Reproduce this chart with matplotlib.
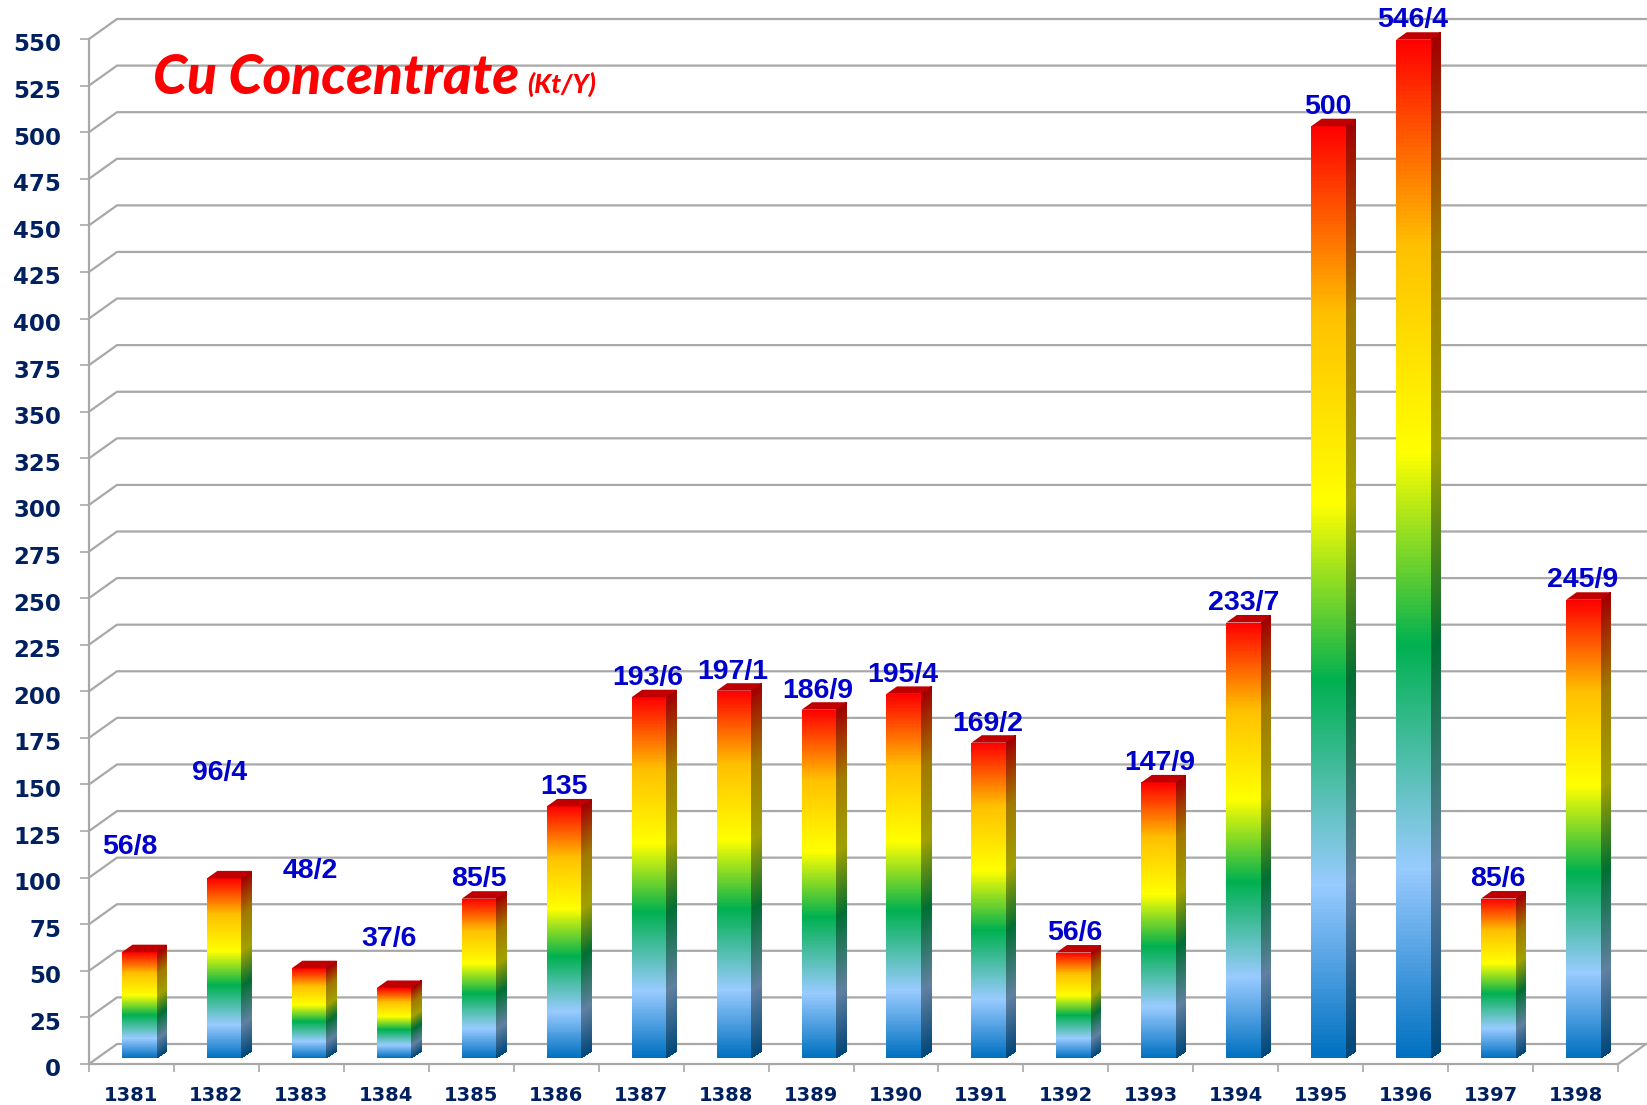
"""Cu concentrate production per year, pseudo-3D gradient column chart."""

import numpy as np
import matplotlib
matplotlib.use("Agg")
import matplotlib.pyplot as plt
from matplotlib.colors import LinearSegmentedColormap, to_rgb
from matplotlib.patches import Polygon
from matplotlib.transforms import ScaledTranslation

# ── Data ──────────────────────────────────────────────────────────
years = [1381, 1382, 1383, 1384, 1385, 1386, 1387, 1388, 1389,
         1390, 1391, 1392, 1393, 1394, 1395, 1396, 1397, 1398]
values = [56.8, 96.4, 48.2, 37.6, 85.5, 135, 193.6, 197.1, 186.9,
          195.4, 169.2, 56.6, 147.9, 233.7, 500, 546.4, 85.6, 245.9]
labels = ["56/8", "96/4", "48/2", "37/6", "85/5", "135", "193/6", "197/1", "186/9",
          "195/4", "169/2", "56/6", "147/9", "233/7", "500", "546/4", "85/6", "245/9"]
y_ticks = list(range(0, 551, 25))

# hand-placed label centres, as in the original slide (x in categories, y in kt)
label_x = [0.48, 1.54, 2.60, 3.53, 4.59, 5.59, 6.58, 7.58, 8.58,
           9.58, 10.58, 11.60, 12.60, 13.59, 14.59, 15.58, 16.59, 17.58]
label_y = [116.2, 156.1, 103.7, 67.3, 99.2, 148.5, 207, 210.4, 199.9,
           208.8, 182.5, 70.3, 161.5, 247.3, 513.6, 560, 99.2, 259.8]

# ── Layout (pixels of the 1647x1105 picture) ──────────────────────
W, H = 1647, 1105
X0, X1, Y0, Y550 = 89, 1618, 1064, 39
PX_X = (X1 - X0) / len(years)      # pixels per category
PX_Y = (Y0 - Y550) / 550           # pixels per kt
WALL_DX, WALL_DY = 28 / PX_X, 20 / PX_Y
BAR_LEFT, BAR_W = 33 / PX_X, 34.5 / PX_X
BAR_DX, BAR_DY = 10.5 / PX_X, 7.5 / PX_Y
BAR_BASE = 3.2
GRID = "#a8a8a8"
NAVY = "#002060"

stops = [(0.0, "#0070c0"), (0.185, "#99cbff"), (0.405, "#00b050"),
         (0.595, "#ffff00"), (0.80, "#ffc000"), (1.0, "#ff0000")]
front_cmap = LinearSegmentedColormap.from_list("front", stops)
side_cmap = LinearSegmentedColormap.from_list(
    "side", [(p, tuple(0.63 * c for c in to_rgb(col))) for p, col in stops])

fig = plt.figure(figsize=(W / 100, H / 100), dpi=100)
ax = fig.add_axes([X0 / W, 1 - Y0 / H, (X1 - X0) / W, (Y0 - Y550) / H])
ax.set_xlim(0, len(years))
ax.set_ylim(0, 550)

# ── Walls: diagonal + back gridline for each tick ─────────────────
for v in y_ticks:
    ax.plot([0, WALL_DX, len(years) + WALL_DX], [v, v + WALL_DY, v + WALL_DY],
            color=GRID, lw=1.6, clip_on=False, zorder=1)
ax.plot([len(years), len(years) + WALL_DX], [0, WALL_DY], color=GRID, lw=1.6, clip_on=False, zorder=1)

# ── Bars ──────────────────────────────────────────────────────────
ramp = np.linspace(0, 1, 256).reshape(-1, 1)
for i, v in enumerate(values):
    left = i + BAR_LEFT
    right = left + BAR_W
    top = v + BAR_BASE
    ys = np.linspace(BAR_BASE, top, 257)

    # front face
    xf = np.tile([left, right], (257, 1))
    yf = np.column_stack([ys, ys])
    ax.pcolormesh(xf, yf, ramp, cmap=front_cmap, vmin=0, vmax=1, shading="flat",
                  clip_on=False, zorder=3, rasterized=True)

    # side face, sheared
    xs = np.tile([right, right + BAR_DX], (257, 1))
    ysd = np.column_stack([ys, ys + BAR_DY])
    ax.pcolormesh(xs, ysd, ramp, cmap=side_cmap, vmin=0, vmax=1, shading="flat",
                  clip_on=False, zorder=3, rasterized=True)

    # top face
    ax.add_patch(Polygon([(left, top), (right, top), (right + BAR_DX, top + BAR_DY),
                          (left + BAR_DX, top + BAR_DY)],
                         closed=True, fc="#c00000", ec="none", clip_on=False, zorder=4))

# ── Value labels ──────────────────────────────────────────────────
for x, y, txt in zip(label_x, label_y, labels):
    ax.text(x, y, txt, ha="center", va="center", fontsize=20.5, fontweight="bold",
            family="Liberation Sans", color="#0000cc", zorder=6, clip_on=False)

# ── Axes ──────────────────────────────────────────────────────────
for side in ["top", "right"]:
    ax.spines[side].set_visible(False)
for side in ["left", "bottom"]:
    ax.spines[side].set_color(GRID)
    ax.spines[side].set_linewidth(1.6)

ax.set_yticks(y_ticks)
ax.set_yticklabels([str(t) for t in y_ticks], family="DejaVu Sans", fontweight="bold",
                   fontsize=16.5, color=NAVY)
ax.tick_params(axis="y", length=6.5, width=1.2, color=GRID, pad=13.5)
# the slide's labels sit a little below their ticks
nudge = ScaledTranslation(0, -2.5 / 72, fig.dpi_scale_trans)
for lab in ax.get_yticklabels():
    lab.set_transform(lab.get_transform() + nudge)

ax.set_xticks(np.arange(len(years)) + 0.5)
ax.set_xticklabels([str(y) for y in years], family="DejaVu Sans", fontweight="bold",
                   fontsize=14, color=NAVY)
ax.set_xticks(np.arange(len(years) + 1), minor=True)
ax.tick_params(axis="x", which="major", length=0, pad=15.5)
ax.tick_params(axis="x", which="minor", length=6, width=1.2, color=GRID)

# ── Title, inside the plot ────────────────────────────────────────
ax.text(0.755, 529, "Cu Concentrate", family="Lato", style="italic", fontweight="black",
        fontsize=39.5, color="#ff0000", ha="left", va="center", zorder=6)
ax.text(5.16, 525.5, "(Kt/Y)", family="Lato", style="italic", fontweight="black",
        fontsize=19, color="#ff0000", ha="left", va="center", zorder=6)

fig.savefig("out.png", dpi=100)
